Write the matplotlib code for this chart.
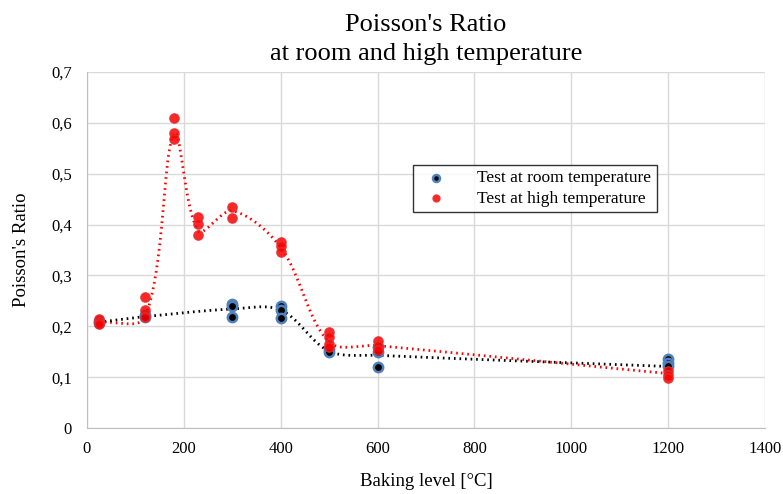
"""Poisson's ratio vs baking level, room and high temperature tests."""
import numpy as np
import matplotlib
matplotlib.use("Agg")
import matplotlib.pyplot as plt
from matplotlib.ticker import FuncFormatter

# measured points (baking level [°C], Poisson's ratio)
room_x = [25, 25, 120, 120, 300, 300, 300, 400, 400, 400, 500, 500, 600, 600, 600, 1200, 1200, 1200]
room_y = [0.21, 0.206, 0.222, 0.218, 0.243, 0.240, 0.219, 0.239, 0.232, 0.216, 0.155, 0.150, 0.160, 0.150, 0.120, 0.135, 0.127, 0.121]
high_x = [25, 25, 25, 120, 120, 120, 180, 180, 180, 230, 230, 230, 300, 300, 400, 400, 400,
          500, 500, 500, 500, 600, 600, 600, 1200, 1200, 1200]
high_y = [0.215, 0.208, 0.204, 0.257, 0.232, 0.219, 0.609, 0.581, 0.569, 0.414, 0.402, 0.380, 0.434, 0.412,
          0.366, 0.357, 0.347, 0.188, 0.179, 0.165, 0.159, 0.172, 0.162, 0.154, 0.113, 0.105, 0.098]

# smoothed trend lines (Excel-style), nodes
room_trend_x = [25, 120, 300, 400, 500, 600, 1200]
room_trend_y = [0.208, 0.219, 0.234, 0.232, 0.151, 0.143, 0.121]
high_trend_x = [25, 120, 180, 230, 300, 400, 500, 600, 1200]
high_trend_y = [0.208, 0.218, 0.580, 0.388, 0.427, 0.355, 0.169, 0.162, 0.107]

x_ticks = [0, 200, 400, 600, 800, 1000, 1200, 1400]
y_ticks = [0, 0.1, 0.2, 0.3, 0.4, 0.5, 0.6, 0.7]


def smooth(xs, ys, sx=678 / 1400, sy=356 / 0.7, n=40):
    # Bezier smoothing like Excel's "smoothed line"; tangent split by chord lengths
    p = np.column_stack([np.asarray(xs) * sx, np.asarray(ys) * sy]).astype(float)
    m = len(p)
    d = np.linalg.norm(np.diff(p, axis=0), axis=1)
    pts = [p[0]]
    for i in range(m - 1):
        if i > 0:
            c1 = p[i] + (p[i + 1] - p[i - 1]) * d[i] / (d[i - 1] + d[i]) / 3
        else:
            c1 = p[i] + (p[i + 1] - p[i]) / 3
        if i + 2 < m:
            c2 = p[i + 1] - (p[i + 2] - p[i]) * d[i] / (d[i] + d[i + 1]) / 3
        else:
            c2 = p[i + 1] - (p[i + 1] - p[i]) / 3
        t = np.linspace(0, 1, n)[1:, None]
        seg = ((1 - t) ** 3) * p[i] + 3 * ((1 - t) ** 2) * t * c1 + 3 * (1 - t) * t ** 2 * c2 + t ** 3 * p[i + 1]
        pts.extend(seg)
    pts = np.array(pts)
    return pts[:, 0] / sx, pts[:, 1] / sy


plt.rcParams["font.family"] = ["Liberation Serif", "DejaVu Serif"]

fig = plt.figure(figsize=(7.83, 4.94), dpi=100)
ax = fig.add_axes([0.1111, 0.1336, 0.866, 0.7207])

ax.plot(*smooth(high_trend_x, high_trend_y), color="red", lw=2, ls=(0, (0.6, 1.4)), zorder=2)
ax.plot(*smooth(room_trend_x, room_trend_y), color="black", lw=2, ls=(0, (0.6, 1.4)), zorder=2)

ax.scatter(room_x, room_y, s=45, c="black", edgecolors="#4f81bd", linewidths=1.8,
           zorder=3, label="Test at room temperature")
ax.scatter(high_x, high_y, s=45, c="red", edgecolors="#e03030", linewidths=1.0, alpha=0.85,
           zorder=4, label="Test at high temperature")

ax.set_xlim(0, 1400)
ax.set_ylim(0, 0.7)
ax.set_xticks(x_ticks)
ax.set_yticks(y_ticks)
ax.yaxis.set_major_formatter(FuncFormatter(lambda v, _: "0" if v == 0 else f"{v:.1f}".replace(".", ",")))
ax.tick_params(length=0, labelsize=12)
ax.tick_params(axis="y", pad=11)
ax.tick_params(axis="x", pad=9)
ax.grid(True, color="#d9d9d9", lw=1)
ax.set_axisbelow(True)
for s in ["top", "right"]:
    ax.spines[s].set_visible(False)
for s in ["left", "bottom"]:
    ax.spines[s].set_color("#bfbfbf")

ax.set_title("Poisson's Ratio\nat room and high temperature", fontsize=19, y=1.0, pad=8.5, linespacing=1.45)
ax.set_xlabel("Baking level [°C]", fontsize=13.5, labelpad=12)
ax.set_ylabel("Poisson's Ratio", fontsize=13.5, labelpad=15)

leg = ax.legend(loc="upper left", bbox_to_anchor=(0.481, 0.739), fontsize=12.5, frameon=True,
                fancybox=False, edgecolor="black", handletextpad=1.4, borderpad=0.3,
                labelspacing=0.25, markerscale=0.75, borderaxespad=0)
leg.get_frame().set_linewidth(1.0)

fig.savefig("out.png", dpi=100)
